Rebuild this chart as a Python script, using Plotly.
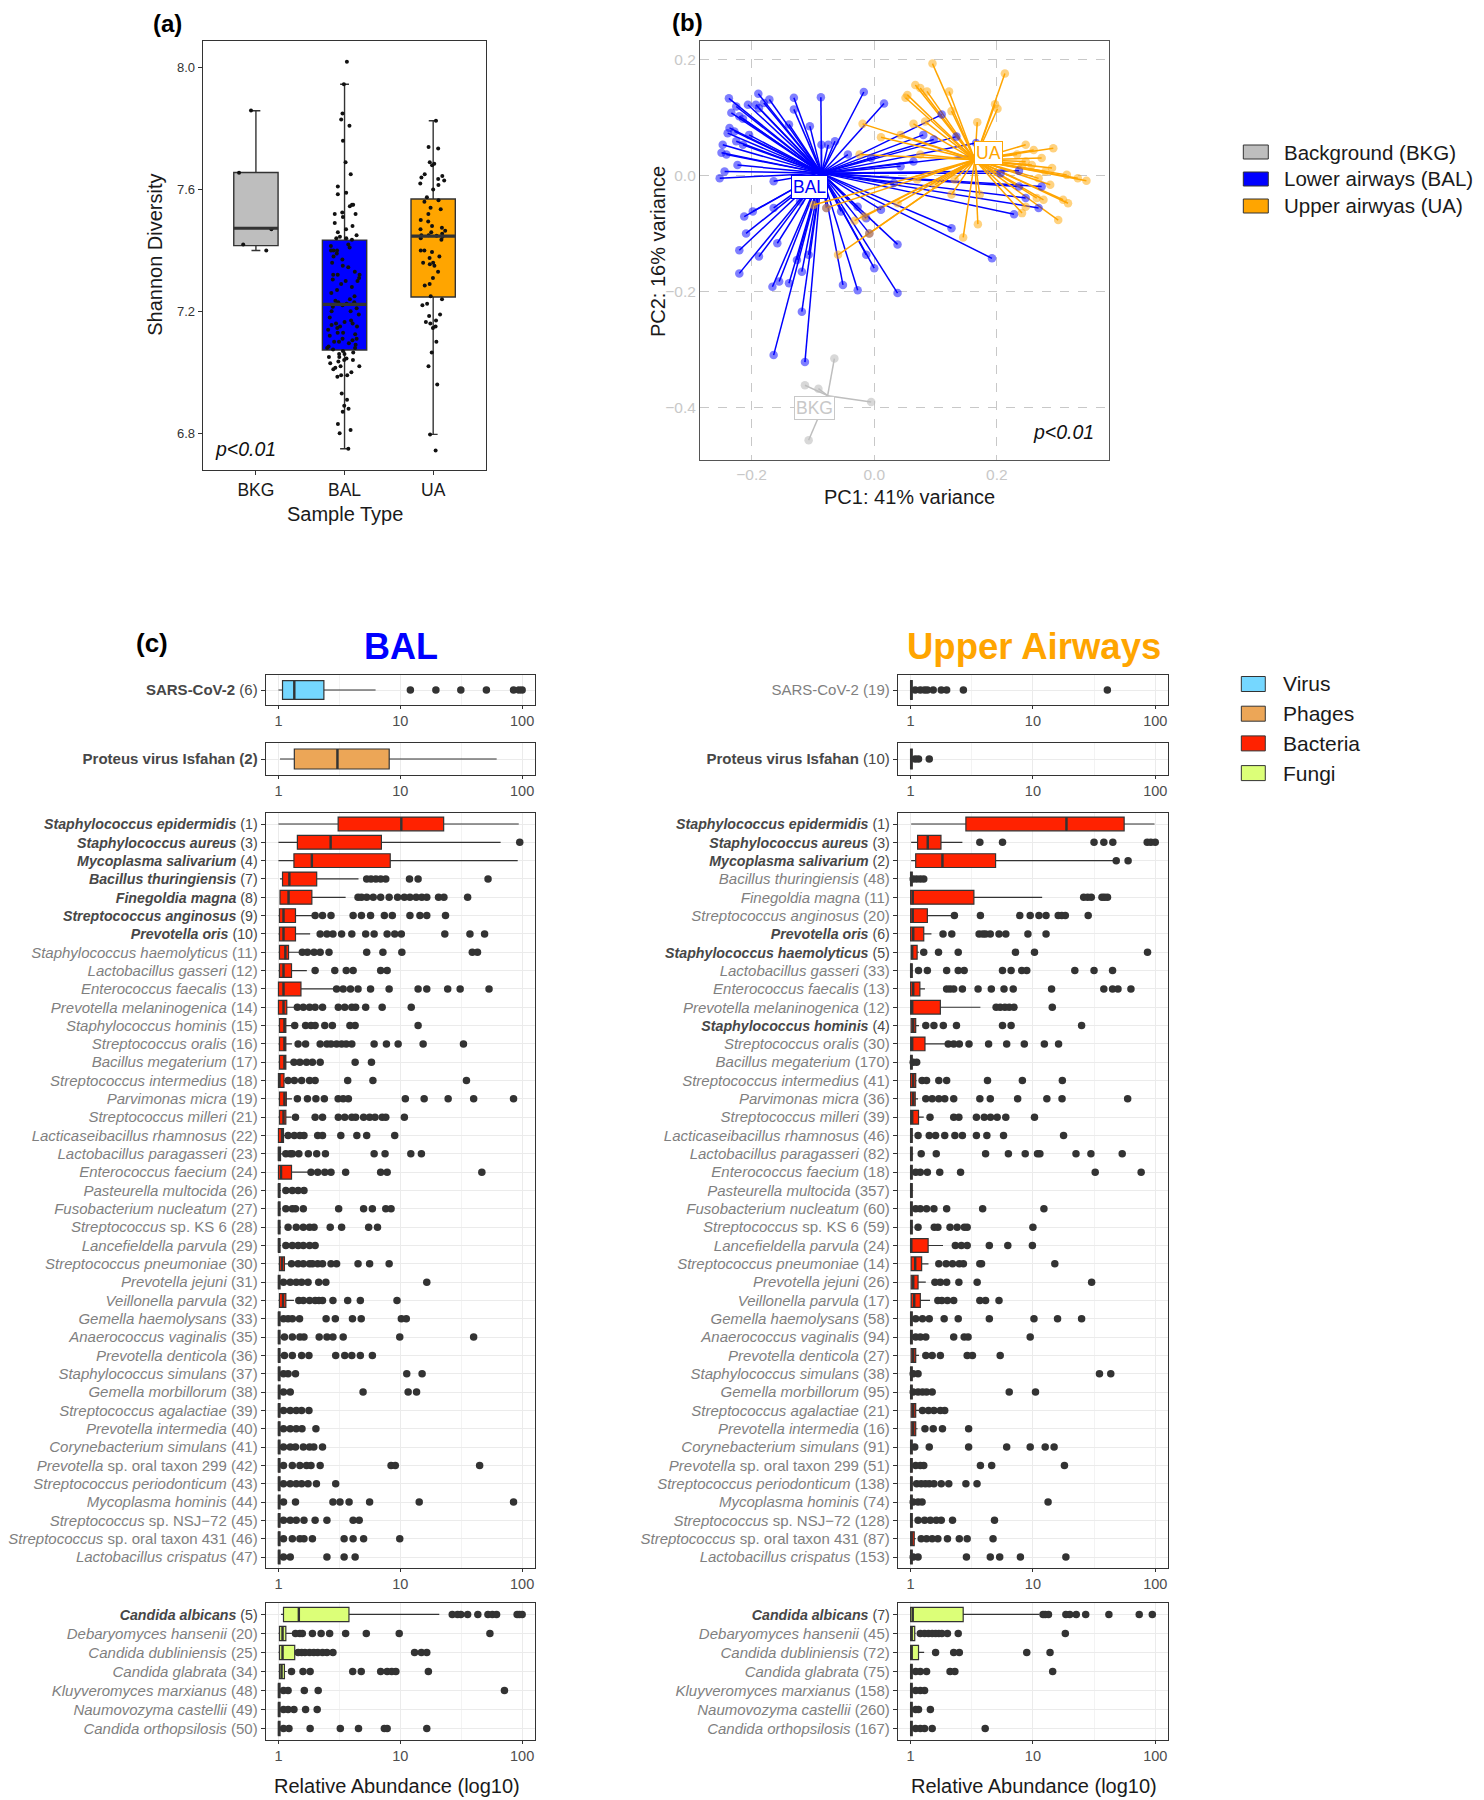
import plotly.graph_objects as go

PAGE_W, PAGE_H = 1484, 1800
OFF = 8  # browser body margin
W, H = PAGE_W - OFF, PAGE_H - OFF
FONT = "Liberation Sans, Arial, Helvetica, sans-serif"

# ---------------- Panel (a): Shannon diversity ----------------
a_groups = ["BKG", "BAL", "UA"]
a_colors = ["#BEBEBE", "#0000FF", "#FFA500"]
a_lowerfence = [7.400, 6.749, 6.796]
a_q1 = [7.416, 7.073, 7.247]
a_median = [7.473, 7.223, 7.447]
a_q3 = [7.656, 7.434, 7.569]
a_upperfence = [7.859, 7.946, 7.826]
a_bkg_values = [7.86, 7.655, 7.47, 7.42, 7.40]
a_bal_values = [8.02, 7.946, 7.85, 7.83, 7.81, 7.76, 7.69, 7.65, 7.61, 7.59, 7.585, 7.55, 7.55,
                7.545, 7.525, 7.52, 7.52, 7.51, 7.49, 7.48, 7.47, 7.46, 7.45, 7.445, 7.44, 7.44,
                7.435, 7.42, 7.415, 7.41, 7.40, 7.40, 7.40, 7.39, 7.38, 7.37, 7.36, 7.35, 7.345,
                7.33, 7.32, 7.32, 7.32, 7.31, 7.305, 7.30, 7.30, 7.29, 7.28, 7.27, 7.26, 7.25,
                7.24, 7.235, 7.23, 7.23, 7.225, 7.22, 7.215, 7.21, 7.20, 7.20, 7.19, 7.18, 7.17,
                7.165, 7.16, 7.16, 7.155, 7.15, 7.15, 7.145, 7.14, 7.13, 7.13, 7.125, 7.12, 7.11,
                7.11, 7.105, 7.10, 7.10, 7.095, 7.09, 7.085, 7.08, 7.08, 7.075, 7.07, 7.065,
                7.06, 7.06, 7.05, 7.05, 7.045, 7.04, 7.04, 7.035, 7.03, 7.02, 7.02, 7.015, 7.01,
                7.00, 6.99, 6.99, 6.985, 6.93, 6.91, 6.89, 6.88, 6.87, 6.83, 6.81, 6.80, 6.749]
a_ua_values = [7.826, 7.74, 7.735, 7.69, 7.685, 7.68, 7.65, 7.645, 7.64, 7.635, 7.63, 7.62, 7.615,
               7.60, 7.575, 7.565, 7.56, 7.54, 7.535, 7.52, 7.50, 7.495, 7.48, 7.475, 7.47, 7.465,
               7.46, 7.455, 7.45, 7.45, 7.448, 7.445, 7.44, 7.435, 7.40, 7.40, 7.395, 7.38, 7.375,
               7.36, 7.36, 7.355, 7.35, 7.33, 7.31, 7.29, 7.285, 7.25, 7.24, 7.225, 7.22, 7.19,
               7.185, 7.17, 7.165, 7.16, 7.15, 7.145, 7.10, 7.065, 7.02, 6.96, 6.796, 6.743]
a_values = [a_bkg_values, a_bal_values, a_ua_values]

# ---------------- Panel (b): PCA ----------------
b_groups = ["BKG", "BAL", "UA"]
b_line_colors = ["#BEBEBE", "#0000FF", "#FFA500"]
b_point_colors = ["rgba(190,190,190,0.6)", "rgba(0,0,255,0.5)", "rgba(255,165,0,0.5)"]
b_centroid_pc1 = [-0.076, -0.086, 0.164]
b_centroid_pc2 = [-0.380, 0.004, 0.027]
b_bkg_pc1 = [-0.065, -0.113, -0.091, -0.005, -0.107]
b_bkg_pc2 = [-0.316, -0.362, -0.368, -0.391, -0.457]
b_bal_pc1 = [-0.237, -0.189, -0.131, -0.087, -0.017, 0.016, -0.171, -0.180, -0.206, -0.193, -0.225,
             -0.233, -0.220, -0.214, -0.188, -0.131, -0.139, -0.105, -0.236, -0.228, -0.239, -0.204,
             -0.247, -0.225, -0.214, -0.249, -0.241, -0.223, -0.244, -0.252, -0.164, -0.086, -0.075,
             -0.064, 0.110, 0.080, 0.097, 0.134, 0.198, 0.206, 0.236, 0.236, 0.273, 0.247, 0.268,
             0.228, 0.126, 0.192, 0.038, -0.008, 0.011, -0.013, -0.027, -0.054, -0.078, -0.121,
             -0.164, -0.198, -0.212, -0.209, -0.220, -0.188, -0.220, -0.158, -0.155, -0.166, -0.139,
             -0.118, -0.126, -0.107, -0.051, -0.027, 0.000, -0.013, 0.038, -0.118, -0.164, -0.113,
             0.064, 0.043, 0.032, 0.166, -0.043, -0.005]
b_bal_pc2 = [0.133, 0.141, 0.134, 0.135, 0.144, 0.124, 0.131, 0.125, 0.122, 0.122, 0.119, 0.108,
             0.102, 0.098, 0.116, 0.114, 0.088, 0.085, 0.082, 0.076, 0.073, 0.070, 0.053, 0.059,
             0.053, 0.039, 0.036, 0.018, 0.007, -0.005, -0.010, 0.053, 0.053, 0.059, 0.105, 0.070,
             0.062, 0.067, 0.039, 0.004, 0.008, -0.019, -0.019, -0.039, -0.056, -0.067, -0.091,
             -0.143, -0.119, -0.100, -0.059, -0.074, -0.054, -0.062, -0.056, -0.045, -0.056, -0.062,
             -0.071, -0.100, -0.129, -0.140, -0.169, -0.117, -0.183, -0.192, -0.186, -0.166, -0.146,
             -0.137, -0.189, -0.198, -0.160, -0.137, -0.203, -0.235, -0.310, -0.322, 0.024, 0.016,
             -0.013, 0.056, 0.036, 0.030]
b_ua_pc1 = [0.095, 0.213, 0.067, 0.075, 0.086, 0.122, 0.054, 0.051, 0.197, 0.201, 0.126, 0.083,
            0.064, -0.019, 0.168, 0.011, 0.043, 0.247, 0.260, 0.292, 0.273, 0.247, 0.257, 0.290,
            0.314, 0.332, 0.346, 0.287, 0.265, 0.276, 0.308, 0.316, 0.241, 0.247, 0.300, 0.169,
            0.145, 0.126, 0.172, 0.131, 0.070, -0.024, 0.075, -0.099, -0.078, -0.016, -0.032,
            -0.059, 0.038, 0.279, 0.268, 0.241, 0.099, -0.008, 0.233]
b_ua_pc2 = [0.193, 0.176, 0.156, 0.151, 0.145, 0.145, 0.139, 0.134, 0.123, 0.115, 0.111, 0.093,
            0.089, 0.089, 0.092, 0.066, 0.070, 0.053, 0.044, 0.047, 0.030, 0.024, 0.018, 0.013,
            0.001, -0.005, -0.009, -0.016, -0.039, -0.042, -0.042, -0.048, -0.065, -0.054, -0.077,
            -0.084, -0.107, -0.033, -0.033, -0.007, -0.007, 0.036, 0.036, -0.051, -0.056, -0.071,
            -0.078, -0.137, -0.048, 0.007, -0.005, 0.018, -0.016, -0.100, 0.036]
b_pc1 = [b_bkg_pc1, b_bal_pc1, b_ua_pc1]
b_pc2 = [b_bkg_pc2, b_bal_pc2, b_ua_pc2]

# ---------------- Panel (c): relative abundance ----------------
c_group_names = ["Virus", "Phages", "Bacteria", "Fungi"]
c_group_colors = ["#75D7FF", "#ECA657", "#FF2200", "#DCFF78"]

c_virus_names = ["SARS-CoV-2"]
c_phage_names = ["Proteus virus Isfahan"]
c_bacteria_names = [
    "Staphylococcus epidermidis", "Staphylococcus aureus", "Mycoplasma salivarium",
    "Bacillus thuringiensis", "Finegoldia magna", "Streptococcus anginosus", "Prevotella oris",
    "Staphylococcus haemolyticus", "Lactobacillus gasseri", "Enterococcus faecalis",
    "Prevotella melaninogenica", "Staphylococcus hominis", "Streptococcus oralis",
    "Bacillus megaterium", "Streptococcus intermedius", "Parvimonas micra", "Streptococcus milleri",
    "Lacticaseibacillus rhamnosus", "Lactobacillus paragasseri", "Enterococcus faecium",
    "Pasteurella multocida", "Fusobacterium nucleatum", "Streptococcus sp. KS 6",
    "Lancefieldella parvula", "Streptococcus pneumoniae", "Prevotella jejuni", "Veillonella parvula",
    "Gemella haemolysans", "Anaerococcus vaginalis", "Prevotella denticola",
    "Staphylococcus simulans", "Gemella morbillorum", "Streptococcus agalactiae",
    "Prevotella intermedia", "Corynebacterium simulans", "Prevotella sp. oral taxon 299",
    "Streptococcus periodonticum", "Mycoplasma hominis", "Streptococcus sp. NSJ\u221272",
    "Streptococcus sp. oral taxon 431", "Lactobacillus crispatus"]
c_fungi_names = ["Candida albicans", "Debaryomyces hansenii", "Candida dubliniensis",
                 "Candida glabrata", "Kluyveromyces marxianus", "Naumovozyma castellii",
                 "Candida orthopsilosis"]

# stats = [lower whisker, q1, median, q3, upper whisker]
# bold: 0 plain, 1 bold name, 2 bold name and rank
bal_virus_rank = [6]
bal_virus_bold = [1]
bal_virus_stats = [[1.0, 1.08, 1.35, 2.36, 6.27]]
bal_virus_out = [[12.1, 19.6, 31.4, 50.9, 85, 94, 100]]

bal_phage_rank = [2]
bal_phage_bold = [2]
bal_phage_stats = [[1.03, 1.35, 3.05, 8.11, 61.8]]
bal_phage_out = [[]]

bal_bacteria_rank = [1, 3, 4, 7, 8, 9, 10, 11, 12, 13, 14, 15, 16, 17, 18, 19, 21, 22, 23, 24, 26,
                     27, 28, 29, 30, 31, 32, 33, 35, 36, 37, 38, 39, 40, 41, 42, 43, 44, 45, 46, 47]
bal_bacteria_bold = [1, 1, 1, 1, 1, 1, 1] + [0] * 34
bal_bacteria_stats = [
    [1.0, 3.09, 10.2, 22.7, 93.8], [1.0, 1.43, 2.68, 7.0, 66.6], [1.0, 1.34, 1.88, 8.27, 92],
    [1.03, 1.08, 1.23, 2.06, 4.54], [1.02, 1.03, 1.21, 1.88, 3.56], [1.0, 1.02, 1.1, 1.38, 1.97],
    [1.0, 1.02, 1.1, 1.38, 1.82], [1.0, 1.02, 1.14, 1.21, 1.49], [1.0, 1.02, 1.1, 1.28, 1.71],
    [1.0, 1.0, 1.1, 1.53, 2.84], [1.0, 1.0, 1.1, 1.17, 1.36], [1.0, 1.02, 1.12, 1.15, 1.28],
    [1.0, 1.02, 1.12, 1.15, 1.29], [1.0, 1.02, 1.12, 1.15, 1.29], [1.0, 1.0, 1.02, 1.11, 1.17],
    [1.0, 1.02, 1.12, 1.16, 1.29], [1.0, 1.02, 1.1, 1.15, 1.28], [1.0, 1.0, 1.07, 1.1, 1.17],
    [1.0, 1.0, 1.01, 1.04, 1.1], [1.0, 1.0, 1.05, 1.28, 1.79], [1.0, 1.0, 1.01, 1.03, 1.05],
    [1.0, 1.0, 1.01, 1.03, 1.05], [1.0, 1.0, 1.01, 1.03, 1.05], [1.0, 1.0, 1.01, 1.03, 1.05],
    [1.0, 1.02, 1.07, 1.12, 1.21], [1.0, 1.0, 1.01, 1.03, 1.05], [1.0, 1.02, 1.09, 1.15, 1.34],
    [1.0, 1.0, 1.01, 1.03, 1.05], [1.0, 1.0, 1.01, 1.03, 1.05], [1.0, 1.0, 1.01, 1.03, 1.05],
    [1.0, 1.0, 1.01, 1.03, 1.05], [1.0, 1.0, 1.01, 1.03, 1.05], [1.0, 1.0, 1.01, 1.03, 1.05],
    [1.0, 1.0, 1.01, 1.03, 1.05], [1.0, 1.0, 1.01, 1.03, 1.05], [1.0, 1.0, 1.01, 1.03, 1.05],
    [1.0, 1.0, 1.01, 1.03, 1.05], [1.0, 1.0, 1.01, 1.03, 1.05], [1.0, 1.0, 1.01, 1.03, 1.05],
    [1.0, 1.0, 1.01, 1.03, 1.05], [1.0, 1.0, 1.01, 1.03, 1.05]]
bal_bacteria_out = [
    [], [95.6], [],
    [5.3, 5.75, 6.3, 6.9, 7.6, 11.9, 14, 52.5],
    [4.5, 4.8, 5.3, 6.0, 6.9, 8.1, 9.5, 10.8, 12, 13.5, 15, 16.5, 20.6, 22.8, 35.7],
    [2.0, 2.3, 2.7, 4.1, 4.8, 5.7, 7.4, 8.6, 12, 14.5, 16.5, 23.5],
    [2.2, 2.5, 2.8, 3.3, 4.0, 5.2, 6.1, 7.8, 9.0, 10.2, 23.2, 37.3, 49.2],
    [1.57, 1.73, 1.96, 2.2, 2.6, 5.3, 7.2, 10.3, 39, 43],
    [2.0, 2.9, 3.6, 4.1, 6.9, 7.8],
    [3.0, 3.4, 3.9, 4.5, 5.7, 8.1, 14, 16.5, 24.5, 31, 53.5],
    [1.43, 1.6, 1.8, 2.0, 2.3, 3.1, 3.5, 4.0, 4.3, 5.2, 7.1, 12.3],
    [1.36, 1.67, 1.85, 2.0, 2.4, 2.77, 3.86, 4.26, 14.0],
    [1.45, 1.67, 2.2, 2.5, 2.7, 3.0, 3.3, 3.6, 4.0, 6.1, 7.7, 9.6, 15.4, 33],
    [1.34, 1.5, 1.7, 1.9, 2.2, 4.26, 5.8],
    [1.2, 1.35, 1.55, 1.8, 2.0, 3.7, 5.96, 34.9],
    [1.43, 1.73, 2.03, 2.38, 3.09, 3.4, 3.75, 11, 15.7, 24.7, 40, 85],
    [1.38, 2.0, 2.3, 3.1, 3.5, 4.0, 4.3, 5.0, 5.6, 6.2, 7.1, 7.6, 10.8],
    [1.2, 1.35, 1.5, 1.62, 2.1, 2.3, 3.25, 4.4, 5.3, 9.0],
    [1.15, 1.25, 1.3, 1.47, 1.76, 2.06, 2.43, 6.1, 7.5, 12.2, 14.9],
    [1.85, 2.1, 2.4, 2.7, 3.56, 6.9, 7.8, 46.7],
    [1.15, 1.3, 1.45, 1.62],
    [1.15, 1.3, 1.38, 1.6, 3.12, 5.0, 5.9, 7.6, 8.4],
    [1.2, 1.4, 1.6, 1.8, 1.96, 2.66, 3.3, 5.5, 6.5],
    [1.15, 1.3, 1.45, 1.6, 1.8, 2.0],
    [1.28, 1.45, 1.6, 1.8, 1.9, 2.1, 2.3, 2.7, 3.0, 4.5, 5.6, 8.1],
    [1.1, 1.25, 1.4, 1.55, 1.75, 2.14, 2.45, 16.5],
    [1.47, 1.6, 1.8, 2.0, 2.15, 2.3, 2.8, 3.7, 4.7, 9.4],
    [1.1, 1.2, 1.3, 1.49, 2.46, 2.93, 4.05, 4.78, 10.2, 11.2],
    [1.12, 1.3, 1.5, 1.62, 2.16, 2.5, 2.8, 3.4, 9.9, 40],
    [1.12, 1.3, 1.55, 1.78, 2.95, 3.5, 4.0, 4.7, 5.9],
    [1.1, 1.2, 1.38, 11.3, 15.1],
    [1.1, 1.25, 4.95, 11.6, 13.6],
    [1.1, 1.25, 1.4, 1.55, 1.78],
    [1.1, 1.25, 1.4, 1.56, 2.03],
    [1.1, 1.25, 1.38, 1.6, 1.8, 1.95, 2.3],
    [1.1, 1.3, 1.5, 1.7, 1.85, 2.2, 8.4, 9.1, 44.8],
    [1.1, 1.25, 1.4, 1.55, 1.75, 2.05, 2.95],
    [1.1, 1.38, 2.8, 3.2, 3.8, 5.6, 14.3, 85],
    [1.1, 1.25, 1.4, 1.62, 2.0, 2.5, 4.1, 4.6],
    [1.1, 1.3, 1.5, 1.62, 1.9, 3.46, 4.1, 5.0, 9.9],
    [1.1, 1.25, 2.5, 3.46, 4.26]]

bal_fungi_rank = [5, 20, 25, 34, 48, 49, 50]
bal_fungi_bold = [1, 0, 0, 0, 0, 0, 0]
bal_fungi_stats = [
    [1.05, 1.1, 1.47, 3.79, 20.9], [1.0, 1.02, 1.08, 1.15, 1.29], [1.0, 1.02, 1.08, 1.36, 1.4],
    [1.0, 1.02, 1.06, 1.12, 1.17], [1.0, 1.0, 1.01, 1.03, 1.05], [1.0, 1.0, 1.01, 1.03, 1.05],
    [1.0, 1.0, 1.01, 1.03, 1.05]]
bal_fungi_out = [
    [26.7, 29.5, 31.4, 35.7, 43.3, 52.4, 57, 61.7, 91, 95, 100],
    [1.38, 1.5, 1.57, 1.9, 2.24, 2.63, 3.56, 5.26, 9.8, 54.4],
    [1.45, 1.55, 1.65, 1.8, 1.95, 2.1, 2.3, 2.5, 2.8, 13.1, 14.9, 16.5],
    [1.28, 1.59, 1.82, 4.07, 4.78, 6.9, 7.8, 8.5, 9.2, 17.0],
    [1.1, 1.2, 1.63, 2.12, 71.6],
    [1.1, 1.2, 1.34, 1.67, 2.08],
    [1.1, 1.22, 1.82, 3.22, 4.54, 7.4, 7.8, 16.5]]

ua_virus_rank = [19]
ua_virus_bold = [0]
ua_virus_stats = [[1.0, 1.0, 1.01, 1.03, 1.05]]
ua_virus_out = [[1.09, 1.2, 1.3, 1.37, 1.53, 1.78, 1.97, 2.7, 40.6]]

ua_phage_rank = [10]
ua_phage_bold = [1]
ua_phage_stats = [[1.0, 1.0, 1.01, 1.03, 1.05]]
ua_phage_out = [[1.09, 1.16, 1.42]]

ua_bacteria_rank = [1, 3, 2, 48, 11, 20, 6, 5, 33, 13, 12, 4, 30, 170, 41, 36, 39, 46, 82, 18, 357,
                    60, 59, 24, 14, 26, 17, 58, 94, 27, 38, 95, 21, 16, 91, 51, 138, 74, 128, 87, 153]
ua_bacteria_bold = [1, 1, 1, 0, 0, 0, 1, 1, 0, 0, 0, 1] + [0] * 29
ua_bacteria_stats = [
    [1.01, 2.83, 18.8, 55.7, 98.7], [1.01, 1.14, 1.38, 1.77, 2.65], [1.01, 1.1, 1.82, 4.95, 46],
    [1.0, 1.0, 1.01, 1.03, 1.05], [1.0, 1.0, 1.04, 3.29, 11.9], [1.0, 1.0, 1.04, 1.37, 2.25],
    [1.0, 1.0, 1.05, 1.28, 1.48], [1.0, 1.01, 1.03, 1.13, 1.17], [1.0, 1.0, 1.01, 1.03, 1.05],
    [1.0, 1.0, 1.05, 1.19, 1.31], [1.0, 1.0, 1.03, 1.75, 3.72], [1.0, 1.01, 1.05, 1.1, 1.17],
    [1.0, 1.0, 1.03, 1.31, 1.97], [1.0, 1.0, 1.01, 1.03, 1.05], [1.0, 1.0, 1.05, 1.1, 1.12],
    [1.0, 1.0, 1.05, 1.09, 1.15], [1.0, 1.0, 1.03, 1.16, 1.28], [1.0, 1.0, 1.01, 1.03, 1.05],
    [1.0, 1.0, 1.01, 1.03, 1.05], [1.0, 1.0, 1.01, 1.03, 1.05], [1.0, 1.0, 1.01, 1.03, 1.05],
    [1.0, 1.0, 1.01, 1.03, 1.05], [1.0, 1.0, 1.01, 1.03, 1.05], [1.0, 1.0, 1.01, 1.39, 1.84],
    [1.0, 1.01, 1.09, 1.23, 1.4], [1.0, 1.01, 1.05, 1.15, 1.33], [1.0, 1.01, 1.07, 1.2, 1.44],
    [1.0, 1.0, 1.01, 1.03, 1.05], [1.0, 1.0, 1.01, 1.03, 1.05], [1.0, 1.01, 1.05, 1.1, 1.17],
    [1.0, 1.0, 1.01, 1.03, 1.05], [1.0, 1.0, 1.01, 1.03, 1.05], [1.0, 1.01, 1.05, 1.1, 1.22],
    [1.0, 1.01, 1.05, 1.1, 1.14], [1.0, 1.0, 1.01, 1.03, 1.05], [1.0, 1.0, 1.01, 1.03, 1.05],
    [1.0, 1.0, 1.01, 1.03, 1.05], [1.0, 1.0, 1.01, 1.03, 1.05], [1.0, 1.0, 1.01, 1.03, 1.05],
    [1.0, 1.0, 1.02, 1.07, 1.1], [1.0, 1.0, 1.01, 1.03, 1.05]]
ua_bacteria_out = [
    [],
    [3.68, 5.64, 31.6, 38, 45, 86, 92, 100],
    [48, 60],
    [1.05, 1.12, 1.2, 1.28],
    [26, 28, 30, 36.7, 38.5, 40.7],
    [2.28, 3.72, 7.8, 9.5, 11.2, 12.8, 16.1, 17.2, 18.4, 28.3],
    [1.84, 2.17, 3.63, 3.9, 4.1, 4.48, 5.28, 6.0, 9.1, 12.8],
    [1.28, 1.69, 2.45, 7.2, 10.3, 86.5],
    [1.16, 1.37, 1.97, 2.45, 2.74, 5.64, 6.63, 8.1, 8.9, 22, 31.6, 44.8],
    [1.97, 2.1, 2.25, 2.65, 3.56, 4.57, 5.8, 6.9, 14.2, 38, 44.8, 49.6, 63.3],
    [5.0, 5.4, 5.9, 6.4, 7.0, 14.4],
    [1.33, 1.55, 1.85, 2.37, 5.64, 6.63, 25],
    [2.03, 2.25, 2.5, 3.0, 4.34, 6.1, 8.5, 12.4, 16.2],
    [1.05, 1.12],
    [1.24, 1.35, 1.7, 1.97, 4.25, 8.2, 17.4],
    [1.33, 1.5, 1.7, 1.9, 2.25, 3.68, 4.48, 7.5, 13, 17.3, 59.5],
    [1.44, 2.25, 2.48, 3.45, 4.0, 4.5, 5.1, 6.0, 10.3],
    [1.15, 1.42, 1.6, 1.9, 2.3, 2.65, 3.45, 4.2, 5.75, 17.8],
    [1.22, 1.62, 4.1, 6.3, 8.65, 10.9, 11.4, 22.5, 29.8, 53.7],
    [1.1, 1.2, 1.37, 1.73, 2.56, 32.3, 76.7],
    [],
    [1.1, 1.2, 1.35, 1.55, 1.97, 3.88, 12.3],
    [1.15, 1.56, 1.67, 2.1, 2.4, 2.75, 2.9, 10],
    [2.32, 2.6, 2.9, 4.4, 6.23, 9.9],
    [1.7, 1.95, 2.2, 2.5, 2.7, 3.68, 3.8, 15.1],
    [1.58, 1.75, 1.97, 2.48, 3.5, 30.2],
    [1.67, 1.8, 2.0, 2.25, 3.68, 4.1, 5.28],
    [1.1, 1.25, 1.42, 1.88, 2.45, 4.4, 10.2, 15.9, 25],
    [1.1, 1.2, 1.33, 2.25, 2.74, 2.95, 9.5],
    [1.33, 1.5, 1.75, 2.9, 3.2, 5.4],
    [1.05, 1.15, 35, 43.3],
    [1.05, 1.15, 1.25, 1.35, 1.5, 6.4, 10.5],
    [1.25, 1.4, 1.55, 1.75, 1.9],
    [1.31, 1.53, 1.82, 2.98],
    [1.08, 1.42, 2.98, 6.1, 9.5, 12.6, 14.9],
    [1.1, 1.2, 1.28, 3.72, 4.6, 18.1],
    [1.12, 1.22, 1.32, 1.42, 1.55, 1.78, 2.05, 2.83, 3.49],
    [1.05, 1.15, 1.24, 13.3],
    [1.15, 1.3, 1.45, 1.62, 1.78, 2.2, 4.85],
    [1.22, 1.35, 1.5, 1.67, 2.0, 2.5, 2.9, 4.72],
    [1.05, 1.15, 2.86, 4.48, 5.35, 7.9, 18.6]]

ua_fungi_rank = [7, 45, 72, 75, 158, 260, 167]
ua_fungi_bold = [1, 0, 0, 0, 0, 0, 0]
ua_fungi_stats = [
    [1.0, 1.0, 1.04, 2.69, 11.3], [1.0, 1.0, 1.02, 1.08, 1.1], [1.0, 1.0, 1.02, 1.16, 1.29],
    [1.0, 1.0, 1.01, 1.03, 1.05], [1.0, 1.0, 1.01, 1.03, 1.05], [1.0, 1.0, 1.01, 1.03, 1.05],
    [1.0, 1.0, 1.01, 1.03, 1.05]]
ua_fungi_out = [
    [12.1, 12.6, 13.4, 18.6, 20, 22.6, 27, 41.8, 74, 94.7],
    [1.2, 1.3, 1.4, 1.5, 1.6, 1.7, 1.8, 2.0, 2.45, 18.4],
    [1.6, 2.25, 2.5, 8.9, 13.8],
    [1.1, 1.2, 1.35, 2.1, 2.3, 14.5],
    [1.1, 1.2, 1.3],
    [1.1, 1.16, 1.45],
    [1.1, 1.2, 1.3, 1.5, 4.07]]


# ---------------- helpers (page pixels -> paper fractions) ----------------
def px(x):
    return (x - OFF) / W


def py(y):
    return 1 - (y - OFF) / H


def dx(l, r):
    return [px(l), px(r)]


def dy(t, b):
    return [py(b), py(t)]


DARK = "#333333"
fig = go.Figure()
layout = dict(width=W, height=H, margin=dict(l=0, r=0, t=0, b=0), paper_bgcolor="white",
              plot_bgcolor="white", showlegend=False, font=dict(family=FONT, color="#222222"),
              annotations=[], shapes=[])

# ---------------- Panel (a) ----------------
for i, g in enumerate(a_groups):
    fig.add_trace(go.Box(x=[i], lowerfence=[a_lowerfence[i]], q1=[a_q1[i]], median=[a_median[i]],
                         q3=[a_q3[i]], upperfence=[a_upperfence[i]], width=0.5, whiskerwidth=0.2,
                         fillcolor=a_colors[i], line=dict(color=DARK, width=1.4), boxpoints=False,
                         xaxis="x", yaxis="y", hoverinfo="skip"))
mx, my = [], []
for i in range(3):
    mx += [i - 0.25, i + 0.25, None]
    my += [a_median[i], a_median[i], None]
fig.add_trace(go.Scatter(x=mx, y=my, mode="lines", line=dict(color=DARK, width=3.2),
                         xaxis="x", yaxis="y", hoverinfo="skip"))
for i, vals in enumerate(a_values):
    fig.add_trace(go.Box(x=[i] * len(vals), y=vals, width=0.5, boxpoints="all", jitter=0.9,
                         pointpos=0, fillcolor="rgba(0,0,0,0)", line=dict(width=0, color="rgba(0,0,0,0)"),
                         marker=dict(size=4, color="#111111"), xaxis="x", yaxis="y",
                         hoverinfo="skip"))

layout["xaxis"] = dict(domain=dx(201, 485), anchor="y", range=[-0.6, 2.6], tickmode="array",
                       tickvals=[0, 1, 2], ticktext=a_groups, ticks="outside", ticklen=4,
                       tickcolor=DARK, tickfont=dict(size=17.5, color="#1a1a1a"), showgrid=False,
                       zeroline=False, showline=True, mirror=True, linecolor=DARK, linewidth=1.3)
layout["yaxis"] = dict(domain=dy(41, 470), anchor="x", range=[6.679, 8.088], tickmode="array",
                       tickvals=[6.8, 7.2, 7.6, 8.0], ticktext=["6.8", "7.2", "7.6", "8.0"],
                       ticks="outside", ticklen=4, tickcolor=DARK,
                       tickfont=dict(size=13, color="#333333"), showgrid=False, zeroline=False,
                       showline=True, mirror=True, linecolor=DARK, linewidth=1.3)

# ---------------- Panel (b) ----------------
for gi in range(3):
    lx, ly = [], []
    for xv, yv in zip(b_pc1[gi], b_pc2[gi]):
        lx += [b_centroid_pc1[gi], xv, None]
        ly += [b_centroid_pc2[gi], yv, None]
    fig.add_trace(go.Scatter(x=lx, y=ly, mode="lines", line=dict(color=b_line_colors[gi], width=1.5),
                             xaxis="x2", yaxis="y2", hoverinfo="skip"))
for gi in range(3):
    fig.add_trace(go.Scatter(x=b_pc1[gi], y=b_pc2[gi], mode="markers",
                             marker=dict(size=8.5, color=b_point_colors[gi], line=dict(width=0)),
                             xaxis="x2", yaxis="y2", hoverinfo="skip"))

GRIDB = "#C8C8C8"
layout["xaxis2"] = dict(domain=dx(699, 1108), anchor="y2", range=[-0.284, 0.382], tickmode="array",
                        tickvals=[-0.2, 0.0, 0.2], ticktext=["\u22120.2", "0.0", "0.2"], ticks="",
                        tickfont=dict(size=15.5, color=GRIDB), showgrid=True, gridcolor=GRIDB,
                        gridwidth=1.3, griddash="dash", zeroline=False, showline=True, mirror=True,
                        linecolor="#555555", linewidth=1.3)
layout["yaxis2"] = dict(domain=dy(41, 460), anchor="x2", range=[-0.491, 0.232], tickmode="array",
                        tickvals=[-0.4, -0.2, 0.0, 0.2], ticktext=["\u22120.4", "\u22120.2", "0.0", "0.2"],
                        ticks="", tickfont=dict(size=15.5, color=GRIDB), showgrid=True,
                        gridcolor=GRIDB, gridwidth=1.3, griddash="dash", zeroline=False,
                        showline=True, mirror=True, linecolor="#555555", linewidth=1.3)

for txt, xv, yv, col in [("BAL", -0.1055, -0.0205, "#0000FF"), ("UA", 0.1866, 0.038, "#FFA500"),
                         ("BKG", -0.0967, -0.402, "#C8C8C8")]:
    layout["annotations"].append(dict(x=xv, y=yv, xref="x2", yref="y2", text=txt, showarrow=False,
                                      font=dict(size=17.5, color=col, family=FONT), bgcolor="white",
                                      bordercolor=col, borderwidth=1, borderpad=1))


# ---------------- Panel (c) ----------------
def make_label(name, rank, bold, italic=True):
    if italic:
        if " sp. " in name:
            g, rest = name.split(" sp. ", 1)
            nm = "<i>%s</i> sp. %s" % (g, rest)
        else:
            nm = "<i>%s</i>" % name
    else:
        nm = name
    size = "font-size:14.2px;" if italic else ""
    if bold == 2:
        return '<span style="color:#474747;%s"><b>%s (%d)</b></span>' % (size, nm, rank)
    if bold == 1:
        return '<span style="color:#474747;%s"><b>%s</b> (%d)</span>' % (size, nm, rank)
    return "%s (%d)" % (nm, rank)


def c_panel(idx, xdom, ydom, names, ranks, bolds, stats, outs, color, italic=True):
    n = len(names)
    pos = list(range(1, n + 1))
    labels = [make_label(nm, r, b, italic) for nm, r, b in zip(names, ranks, bolds)]
    xa, ya = "x%d" % idx, "y%d" % idx
    fig.add_trace(go.Box(y=pos, lowerfence=[s[0] for s in stats], q1=[s[1] for s in stats],
                         median=[s[2] for s in stats], q3=[s[3] for s in stats],
                         upperfence=[s[4] for s in stats], orientation="h", width=0.75,
                         whiskerwidth=0, fillcolor=color, line=dict(color=DARK, width=1.2),
                         boxpoints=False, xaxis=xa, yaxis=ya, hoverinfo="skip"))
    mx, my = [], []
    for p, s in zip(pos, stats):
        mx += [s[2], s[2], None]
        my += [p - 0.375, p + 0.375, None]
    fig.add_trace(go.Scatter(x=mx, y=my, mode="lines", line=dict(color=DARK, width=2.4),
                             xaxis=xa, yaxis=ya, hoverinfo="skip"))
    ox, oy = [], []
    for p, o in zip(pos, outs):
        ox += o
        oy += [p] * len(o)
    if ox:
        fig.add_trace(go.Scatter(x=ox, y=oy, mode="markers",
                                 marker=dict(size=7.5, color=DARK, line=dict(width=0)),
                                 xaxis=xa, yaxis=ya, hoverinfo="skip"))
    layout["xaxis%d" % idx] = dict(
        domain=xdom, anchor=ya, type="log", range=[-0.105, 2.108], tickmode="array",
        tickvals=[1, 10, 100], ticktext=["1", "10", "100"], ticks="outside", ticklen=3,
        tickcolor=DARK, tickfont=dict(size=14.5, color="#4D4D4D"), showgrid=True,
        gridcolor="#EBEBEB", gridwidth=1,
        minor=dict(tickmode="array", tickvals=[3.1623, 31.623], showgrid=True,
                   gridcolor="#F3F3F3", gridwidth=0.6, ticks=""),
        zeroline=False, showline=True, mirror=True, linecolor=DARK, linewidth=1)
    layout["yaxis%d" % idx] = dict(
        domain=ydom, anchor=xa, range=[n + 0.6, 0.4], tickmode="array", tickvals=pos,
        ticktext=labels, ticks="outside", ticklen=4, tickcolor=DARK,
        tickfont=dict(size=15, color="#7F7F7F"), showgrid=True, gridcolor="#EBEBEB", gridwidth=1,
        zeroline=False, showline=True, mirror=True, linecolor=DARK, linewidth=1)


BALX = dx(264, 534)
UAX = dx(897, 1168)
YV, YP, YB, YF = dy(675, 705), dy(743, 775), dy(813, 1568), dy(1603, 1740)

c_panel(3, BALX, YV, c_virus_names, bal_virus_rank, bal_virus_bold, bal_virus_stats,
        bal_virus_out, c_group_colors[0], italic=False)
c_panel(4, BALX, YP, c_phage_names, bal_phage_rank, bal_phage_bold, bal_phage_stats,
        bal_phage_out, c_group_colors[1], italic=False)
c_panel(5, BALX, YB, c_bacteria_names, bal_bacteria_rank, bal_bacteria_bold, bal_bacteria_stats,
        bal_bacteria_out, c_group_colors[2])
c_panel(6, BALX, YF, c_fungi_names, bal_fungi_rank, bal_fungi_bold, bal_fungi_stats,
        bal_fungi_out, c_group_colors[3])
c_panel(7, UAX, YV, c_virus_names, ua_virus_rank, ua_virus_bold, ua_virus_stats,
        ua_virus_out, c_group_colors[0], italic=False)
c_panel(8, UAX, YP, c_phage_names, ua_phage_rank, ua_phage_bold, ua_phage_stats,
        ua_phage_out, c_group_colors[1], italic=False)
c_panel(9, UAX, YB, c_bacteria_names, ua_bacteria_rank, ua_bacteria_bold, ua_bacteria_stats,
        ua_bacteria_out, c_group_colors[2])
c_panel(10, UAX, YF, c_fungi_names, ua_fungi_rank, ua_fungi_bold, ua_fungi_stats,
        ua_fungi_out, c_group_colors[3])


# ---------------- text annotations ----------------
def ann(x, y, text, size, color="#1a1a1a", angle=0, xanchor="center", bold=False):
    if bold:
        text = "<b>%s</b>" % text
    layout["annotations"].append(dict(x=px(x), y=py(y), xref="paper", yref="paper", text=text,
                                      showarrow=False, textangle=angle, xanchor=xanchor,
                                      yanchor="middle", font=dict(size=size, color=color, family=FONT)))


ann(166, 24, "(a)", 24, "#000000", bold=True)
ann(686, 22, "(b)", 24, "#000000", bold=True)
ann(150, 643, "(c)", 26, "#000000", bold=True)
ann(153, 255, "Shannon Diversity", 20, angle=-90)
ann(343, 514, "Sample Type", 20)
ann(657, 252, "PC2: 16% variance", 20, angle=-90)
ann(909, 497, "PC1: 41% variance", 20)
ann(244, 449, "<i>p&lt;0.01</i>", 19.5, "#111111")
ann(1063, 432, "<i>p&lt;0.01</i>", 19.5, "#111111")
ann(400, 646, "BAL", 36, "#0000FF", bold=True)
ann(1033, 646, "Upper Airways", 36.5, "#FFA500", bold=True)
ann(396, 1786, "Relative Abundance (log10)", 20)
ann(1033, 1786, "Relative Abundance (log10)", 20)

# legends (b) and (c)
b_legend_labels = ["Background (BKG)", "Lower airways (BAL)", "Upper airwyas (UA)"]
for i, (lab, col) in enumerate(zip(b_legend_labels, a_colors)):
    cy = 152 + i * 27
    layout["shapes"].append(dict(type="rect", xref="paper", yref="paper", x0=px(1243), x1=px(1268),
                                 y0=py(cy + 7), y1=py(cy - 7), fillcolor=col,
                                 line=dict(color=DARK, width=1)))
    ann(1282, cy, lab, 20.5, xanchor="left")
for i, (lab, col) in enumerate(zip(c_group_names, c_group_colors)):
    cy = 684 + i * 29.7
    layout["shapes"].append(dict(type="rect", xref="paper", yref="paper", x0=px(1241), x1=px(1265),
                                 y0=py(cy + 7.5), y1=py(cy - 7.5), fillcolor=col,
                                 line=dict(color=DARK, width=1)))
    ann(1281, cy, lab, 21, xanchor="left")

fig.update_layout(**layout)
fig.write_html("out.html")
